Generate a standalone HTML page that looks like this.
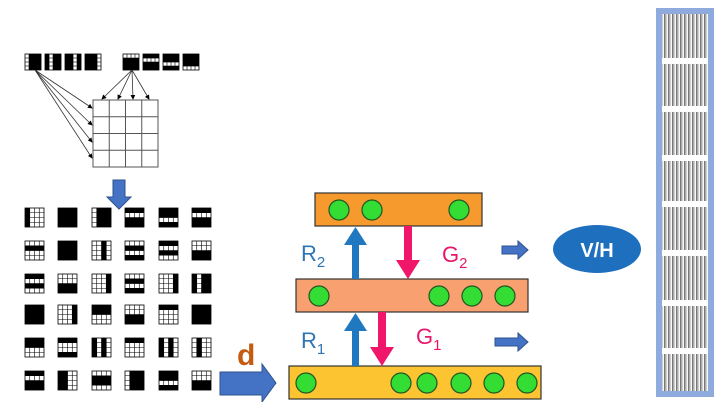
<!DOCTYPE html>
<html><head><meta charset="utf-8"><style>
html,body{margin:0;padding:0;background:#fff;}
svg{display:block;}
text{font-family:"Liberation Sans",sans-serif;}
</style></head><body>
<svg id="s" width="720" height="402" viewBox="0 0 720 402" xmlns="http://www.w3.org/2000/svg">
<defs>
<marker id="ah" markerWidth="6" markerHeight="6" refX="5" refY="3" orient="auto"><path d="M0,0 L6,3 L0,6 z" fill="#000"/></marker>
<pattern id="str" width="4" height="10" patternUnits="userSpaceOnUse"><rect width="4" height="10" fill="#fff"/><rect x="0" width="1.6" height="10" fill="#777"/><rect x="2.3" width="0.8" height="10" fill="#bbb"/></pattern>
</defs>
<g id="icons"></g>
<g stroke="#555" stroke-width="1" fill="none">
<rect x="93" y="100" width="65" height="67" fill="#fff"/>
<line x1="109.25" y1="100" x2="109.25" y2="167"/><line x1="125.5" y1="100" x2="125.5" y2="167"/><line x1="141.75" y1="100" x2="141.75" y2="167"/>
<line x1="93" y1="116.75" x2="158" y2="116.75"/><line x1="93" y1="133.5" x2="158" y2="133.5"/><line x1="93" y1="150.25" x2="158" y2="150.25"/>
</g>
<g stroke="#333" stroke-width="0.8" marker-end="url(#ah)">
<line x1="35" y1="70" x2="92" y2="108"/><line x1="35" y1="70" x2="92" y2="125"/><line x1="35" y1="70" x2="92" y2="142"/><line x1="35" y1="70" x2="92" y2="158"/>
<line x1="132" y1="70" x2="102" y2="99"/><line x1="132" y1="70" x2="118" y2="99"/><line x1="132" y1="70" x2="133" y2="99"/><line x1="132" y1="70" x2="149" y2="99"/>
</g>
<path d="M113,180 H125 V197 H131 L119,209 L107,197 H113 Z" fill="#4472c4" stroke="#2f528f" stroke-width="1"/>
<path d="M220,372 H262 V364 L276,383 L262,402 V395 H220 Z" fill="#4472c4" stroke="#2f528f" stroke-width="1"/>
<text x="237" y="365" font-size="30" font-weight="bold" fill="#c55a11">d</text>
<rect x="315" y="193" width="167" height="33" fill="#f79a2e" stroke="#333" stroke-width="1.2"/>
<rect x="296" y="279" width="232" height="33" fill="#f8a070" stroke="#333" stroke-width="1.2"/>
<rect x="289" y="366" width="252" height="33" fill="#fcc430" stroke="#333" stroke-width="1.2"/>
<g fill="#33dd33" stroke="#225522" stroke-width="1.2">
<circle cx="339" cy="210" r="10"/><circle cx="372" cy="210" r="10"/><circle cx="459" cy="210" r="10"/>
<circle cx="319" cy="296" r="10"/><circle cx="439" cy="296" r="10"/><circle cx="472" cy="296" r="10"/><circle cx="505" cy="296" r="10"/>
<circle cx="306" cy="383" r="10"/><circle cx="401" cy="383" r="10"/><circle cx="427" cy="383" r="10"/><circle cx="461" cy="383" r="10"/><circle cx="494" cy="383" r="10"/><circle cx="527" cy="383" r="10"/>
</g>
<path d="M352,279 V245 H344 L355.5,227 L367,245 H359 V279 Z" fill="#1f78c0"/>
<path d="M352,366 V331 H344 L355.5,313 L367,331 H359 V366 Z" fill="#1f78c0"/>
<path d="M404,226 V260 H396 L408,279 L420,260 H412 V226 Z" fill="#f0166a"/>
<path d="M378,312 V347 H370 L382,366 L394,347 H386 V312 Z" fill="#f0166a"/>
<text x="301" y="261" font-size="22" fill="#2e75b6">R<tspan font-size="15" dy="6">2</tspan></text>
<text x="301" y="348" font-size="22" fill="#2e75b6">R<tspan font-size="15" dy="6">1</tspan></text>
<text x="442" y="262" font-size="22" fill="#e8176a">G<tspan font-size="15" dy="6">2</tspan></text>
<text x="416" y="344" font-size="22" fill="#e8176a">G<tspan font-size="15" dy="6">1</tspan></text>
<path d="M502,246 H518 V241 L528,250 L518,259 V254 H502 Z" fill="#4472c4" stroke="#2f528f" stroke-width="1"/>
<path d="M495,338 H518 V333 L528,342 L518,351 V346 H495 Z" fill="#4472c4" stroke="#2f528f" stroke-width="1"/>
<ellipse cx="597" cy="249" rx="44" ry="24" fill="#1f6fbf"/>
<text x="597" y="257" font-size="20" font-weight="bold" fill="#fff" text-anchor="middle">V/H</text>
<rect x="656" y="8" width="58" height="389" fill="#8faadc"/>
<rect x="662" y="14" width="46" height="377" fill="url(#str)"/>
<g fill="#fff" id="gaps"></g>
</svg>
<script>
var ns="http://www.w3.org/2000/svg",g=document.getElementById('icons');
function icon(x,y,s,code){
 var c=s/4,t=code[0],m=code.slice(1);
 var r=document.createElementNS(ns,'rect');r.setAttribute('x',x);r.setAttribute('y',y);r.setAttribute('width',s);r.setAttribute('height',s);r.setAttribute('fill','#fff');r.setAttribute('stroke','#000');r.setAttribute('stroke-width','0.8');g.appendChild(r);
 for(var i=1;i<4;i++){
  var l=document.createElementNS(ns,'line');l.setAttribute('x1',x+i*c);l.setAttribute('x2',x+i*c);l.setAttribute('y1',y);l.setAttribute('y2',y+s);l.setAttribute('stroke','#000');l.setAttribute('stroke-width','0.6');g.appendChild(l);
  l=document.createElementNS(ns,'line');l.setAttribute('y1',y+i*c);l.setAttribute('y2',y+i*c);l.setAttribute('x1',x);l.setAttribute('x2',x+s);l.setAttribute('stroke','#000');l.setAttribute('stroke-width','0.6');g.appendChild(l);
 }
 for(var k=0;k<4;k++){if(m[k]=='1'||t=='F'){
  var b=document.createElementNS(ns,'rect');
  if(t=='V'){b.setAttribute('x',x+k*c);b.setAttribute('y',y);b.setAttribute('width',c+0.2);b.setAttribute('height',s);}
  else{b.setAttribute('x',x);b.setAttribute('y',y+k*c);b.setAttribute('width',s);b.setAttribute('height',c+0.2);}
  b.setAttribute('fill','#000');g.appendChild(b);}}
}
var top1=['V0111','V1011','V1101','V1110'],top2=['H0111','H1011','H1101','H1110'];
[25,45,65,85].forEach(function(x,i){icon(x,54,16,top1[i]);});
[123,143,163,183].forEach(function(x,i){icon(x,54,16,top2[i]);});
var grid=[
['V1000','F1111','V0111','H1011','H1101','H1011'],
['H0100','F1111','V0010','H0101','H1010','H0011'],
['H1010','H0011','V0001','H0101','V0001','V1011'],
['F1111','V0001','H1100','H0011','H1000','F1111'],
['H1100','H1001','V1010','H1000','V1010','V0100'],
['H1011','V1100','H0110','V0111','H1101','H0011']];
var cx=[25,58,92,125,159,192],cy=[208,241,274,305,338,371];
for(var r=0;r<6;r++)for(var c2=0;c2<6;c2++)icon(cx[c2],cy[r],19,grid[r][c2]);
var gp=document.getElementById('gaps');
[58,106,155,201,250,300,348].forEach(function(y){var b=document.createElementNS(ns,'rect');b.setAttribute('x',662);b.setAttribute('y',y);b.setAttribute('width',46);b.setAttribute('height',6);gp.appendChild(b);});
</script>
</body></html>
